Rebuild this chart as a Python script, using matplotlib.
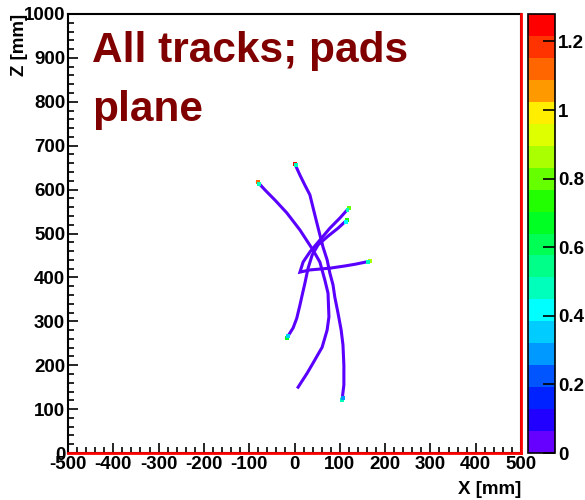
import matplotlib.pyplot as plt
from matplotlib.colors import ListedColormap
from matplotlib.ticker import MultipleLocator

plt.rcParams['font.family'] = ['Liberation Sans', 'DejaVu Sans']
plt.rcParams['font.weight'] = 'bold'
plt.rcParams['axes.unicode_minus'] = False

# track points (x, z in mm)
track_a_x = [1, 12, 23, 34, 45, 56, 63, 72, 78, 85, 89, 96, 103, 107, 109, 109, 105]
track_a_z = [658, 633, 610, 588, 542, 497, 469, 440, 410, 383, 355, 319, 280, 246, 200, 155, 121]

track_b_x = [-81, -65, -43, -17, 12, 41, 56, 67, 74, 76, 72, 61, 41, 28, 8]
track_b_z = [617, 599, 576, 547, 508, 462, 435, 394, 364, 310, 280, 241, 205, 182, 150]

track_c_x = [-17, -3, 5, 12, 17, 23, 30, 39, 52, 74, 96, 116]
track_c_z = [262, 285, 307, 337, 360, 387, 421, 451, 474, 494, 512, 531]

track_d_x = [120, 100, 78, 56, 34, 19, 12, 34, 78, 111, 134, 167]
track_d_z = [558, 535, 512, 485, 458, 435, 412, 417, 421, 426, 430, 437]

# bins with higher charge at track ends
end_x = [1, 4, -81, -78, -17, -14, 116, 113, 120, 117, 167, 162, 105, 107]
end_z = [658, 655, 617, 613, 262, 266, 531, 527, 558, 553, 437, 436, 121, 126]
end_val = [1.25, 0.45, 1.1, 0.5, 0.7, 0.35, 0.75, 0.4, 0.8, 0.45, 0.85, 0.45, 0.45, 0.3]

cbar_ticks = [0, 0.2, 0.4, 0.6, 0.8, 1, 1.2]
cbar_labels = ['0', '0.2', '0.4', '0.6', '0.8', '1', '1.2']

palette = ['#6600ff', '#2200ff', '#0022ff', '#0055ff', '#0099ff', '#00ccff',
           '#00ffff', '#00ffbb', '#00ff88', '#00ff55', '#00ff22', '#22ff00',
           '#66ff00', '#aaff00', '#ddff00', '#ffee00', '#ff9900', '#ff6600',
           '#ff3300', '#ff0000']
cmap = ListedColormap(palette)

fig = plt.figure(figsize=(5.85, 5.0), dpi=100)
ax = fig.add_axes([68/585, 47/500, 453/585, 439/500])

line_col = '#5a00ff'
for xs, zs in [(track_a_x, track_a_z), (track_b_x, track_b_z),
               (track_c_x, track_c_z), (track_d_x, track_d_z)]:
    ax.plot(xs, zs, color=line_col, lw=2.2, solid_joinstyle='miter')

sc = ax.scatter(end_x, end_z, c=end_val, cmap=cmap, vmin=0, vmax=1.28,
                marker='s', s=8, linewidths=0, zorder=3)

# red border of the pads plane
ax.plot([-500, 500], [0, 0], color='red', lw=2, clip_on=False, zorder=4)
ax.plot([500, 500], [0, 1000], color='red', lw=2, clip_on=False, zorder=4)

ax.set_xlim(-500, 500)
ax.set_ylim(0, 1000)
ax.xaxis.set_major_locator(MultipleLocator(100))
ax.xaxis.set_minor_locator(MultipleLocator(20))
ax.yaxis.set_major_locator(MultipleLocator(100))
ax.yaxis.set_minor_locator(MultipleLocator(20))
ax.tick_params(which='both', direction='in', top=False, right=False,
               labelsize=13.5, width=1.2, pad=2)
ax.tick_params(which='major', length=7.5)
ax.tick_params(which='minor', length=4)
for s in ax.spines.values():
    s.set_linewidth(1.5)

fig.text(521/585, 1-494/500, 'X [mm]', ha='right', va='baseline', fontsize=13.5)
fig.text(19/585, 1-45/500, 'Z [mm]', rotation=90, ha='center', va='center', fontsize=13.5)

fig.text(92/585, 1-62/500, 'All tracks; pads', fontsize=30.5, color='#800000',
         va='baseline', ha='left')
fig.text(92/585, 1-121/500, 'plane', fontsize=30.5, color='#800000',
         va='baseline', ha='left')

cax = fig.add_axes([528/585, 47/500, 27/585, 439/500])
cb = fig.colorbar(sc, cax=cax, ticks=cbar_ticks)
cb.ax.set_yticklabels(cbar_labels)
cb.ax.tick_params(direction='in', length=9, width=1.2, labelsize=13.5, pad=2)
cb.outline.set_linewidth(1.2)

fig.savefig('out.png', dpi=100)
